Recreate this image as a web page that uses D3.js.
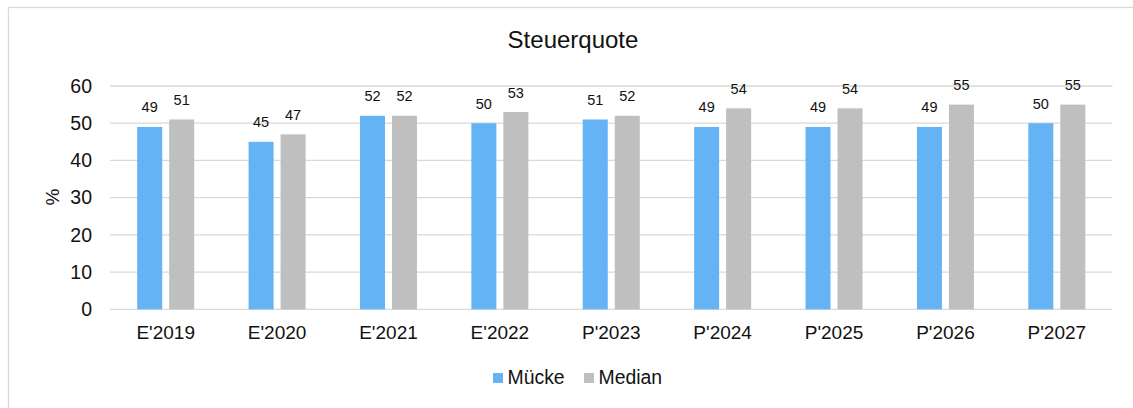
<!DOCTYPE html>
<html><head><meta charset="utf-8">
<script src="https://cdn.jsdelivr.net/npm/d3@7"></script>
<style>body{margin:0;background:#fff;font-family:"Liberation Sans",Arial,sans-serif;}</style>
</head><body>
<svg id="c" width="1133" height="408"></svg>
<script>
const categories = ["E'2019","E'2020","E'2021","E'2022","P'2023","P'2024","P'2025","P'2026","P'2027"];
const muecke = [49,45,52,50,51,49,49,49,50];
const median = [51,47,52,53,52,54,54,55,55];
const seriesNames = ["Mücke","Median"];
const yTicks = [0,10,20,30,40,50,60];
const colors = ["#63b3f5","#bfbfbf"];

const svg = d3.select("#c");
svg.append("rect").attr("x",8.5).attr("y",7.5).attr("width",1140).attr("height",410)
  .attr("fill","#fff").attr("stroke","#d9d9d9").attr("stroke-width",1.3);

const pLeft=110,pRight=1112.5,pTop=86,pBottom=309.3;
const x = d3.scaleBand().domain(categories).range([pLeft,pRight]);
const y = d3.scaleLinear().domain([0,60]).range([pBottom,pTop]);

svg.append("g").selectAll("line").data(yTicks).join("line")
  .attr("x1",pLeft).attr("x2",pRight).attr("y1",d=>y(d)).attr("y2",d=>y(d))
  .attr("stroke","#d9d9d9").attr("stroke-width",1.3);

const yAxis = svg.append("g").attr("transform",`translate(${pLeft},0)`)
  .call(d3.axisLeft(y).tickValues(yTicks).tickSize(0).tickPadding(18));
yAxis.select(".domain").remove();
yAxis.selectAll("text").attr("font-size",19.5).attr("fill","#111").attr("font-family","Liberation Sans, Arial, sans-serif");

const xAxis = svg.append("g").attr("transform",`translate(0,${pBottom})`)
  .call(d3.axisBottom(x).tickSize(0).tickPadding(16));
xAxis.select(".domain").remove();
xAxis.selectAll("text").attr("font-size",19).attr("fill","#111").attr("font-family","Liberation Sans, Arial, sans-serif");

const barW=25, gap=7;
const data = [muecke, median];
data.forEach((vals,si)=>{
  const off = si===0 ? -gap/2-barW : gap/2;
  const g = svg.append("g");
  g.selectAll("rect").data(vals).join("rect")
    .attr("x",(d,i)=>x(categories[i])+x.bandwidth()/2+off)
    .attr("y",d=>y(d)).attr("width",barW).attr("height",d=>pBottom-y(d))
    .attr("fill",colors[si]);
  g.selectAll("text").data(vals).join("text")
    .attr("x",(d,i)=>x(categories[i])+x.bandwidth()/2+off+barW/2)
    .attr("y",d=>y(d)-14.5).attr("text-anchor","middle")
    .attr("font-size",14.5).attr("fill","#111").text(d=>d);
});

svg.append("text").attr("x",573).attr("y",48).attr("text-anchor","middle")
  .attr("font-size",24).attr("fill","#111").text("Steuerquote");
svg.append("text").attr("transform","translate(58.5,197) rotate(-90)").attr("text-anchor","middle")
  .attr("font-size",19).attr("fill","#111").text("%");

const legX=[493,584];
seriesNames.forEach((n,i)=>{
  svg.append("rect").attr("x",legX[i]).attr("y",373).attr("width",10).attr("height",10).attr("fill",colors[i]);
  svg.append("text").attr("x",legX[i]+14.5).attr("y",384.3).attr("font-size",19.4).attr("fill","#111").text(n);
});
</script>
</body></html>
